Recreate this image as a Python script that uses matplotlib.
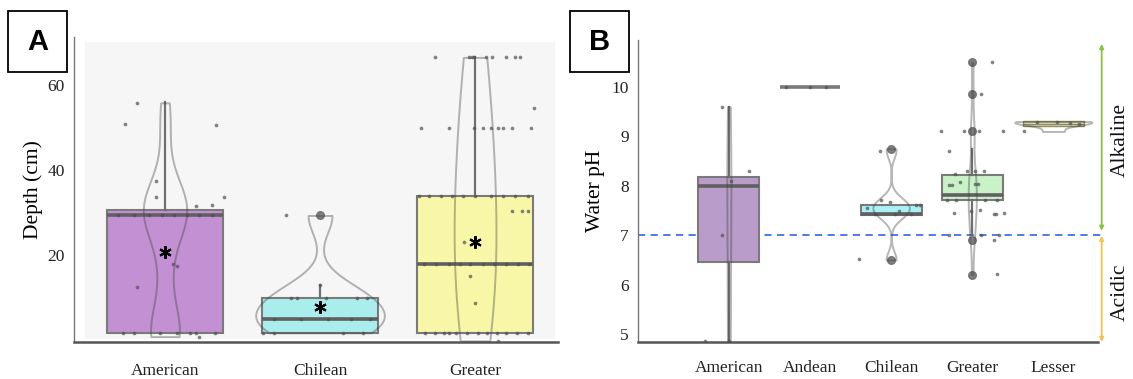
import numpy as np
import matplotlib
matplotlib.use("Agg")
import matplotlib.pyplot as plt
from matplotlib.patches import Rectangle
from matplotlib.transforms import blended_transform_factory

SERIF = ["Liberation Serif", "DejaVu Serif"]
SANS = ["Liberation Sans", "DejaVu Sans"]

# ---------------- Panel A : Depth (cm) ----------------
a_groups = ["American", "Chilean", "Greater"]
a_q1 = [1.7, 1.7, 1.7]
a_med = [29.4, 4.9, 17.8]
a_q3 = [30.6, 9.8, 33.9]
a_whislo = [1.7, 1.7, 1.7]
a_whishi = [56.0, 12.9, 66.5]
a_mean = [20.7, 7.8, 23.1]
a_fliers = [[], [29.3], []]
a_colors = ["#c490d4", "#aaeded", "#f8f7a8"]

a_american_vals = [55.8, 50.8, 50.6, 37.4, 33.6, 33.6, 31.6, 31.7, 18.0, 17.5, 12.5,
                   1.6, 1.6, 1.6, 1.6, 1.6, 1.6, 1.6, 0.8,
                   29.5, 29.5, 29.5, 29.5, 29.5, 29.5, 29.5, 29.5]
a_american_jit = [-0.18, -0.26, 0.33, -0.06, -0.06, 0.38, 0.2, 0.3, 0.05, 0.08, -0.18,
                  -0.27, -0.2, -0.03, 0.075, 0.16, 0.2, 0.32, 0.22,
                  -0.3, -0.2, -0.1, -0.02, 0.06, 0.14, 0.22, 0.3]
a_chilean_vals = [29.3, 12.9, 9.8, 9.8, 9.8, 9.8, 9.8, 4.9, 4.9, 4.9, 4.9, 4.9,
                  1.7, 1.7, 1.7, 1.7]
a_chilean_jit = [-0.22, 0.0, -0.19, -0.15, 0.04, 0.24, 0.3, -0.3, -0.12, 0.05, 0.2, 0.32,
                 -0.37, -0.3, 0.15, 0.28]
a_greater_vals = ([66.5] * 9 + [50.0] * 9 + [54.7] + [30.4] * 3 + [23.1, 15.1, 8.8]
                  + [34.0] * 10 + [17.8] * 10 + [1.7] * 12 + [-0.2])
a_greater_jit = ([-0.26, -0.04, -0.02, -0.01, 0.07, 0.11, 0.2, 0.26, 0.29]
                 + [-0.35, -0.17, -0.01, 0.05, 0.1, 0.15, 0.18, 0.24, 0.36]
                 + [0.38] + [0.24, 0.3, 0.34] + [-0.07, -0.03, 0.0]
                 + [-0.36, -0.3, -0.22, -0.15, -0.08, 0.0, 0.1, 0.18, 0.26, 0.34]
                 + [-0.33, -0.25, -0.17, -0.1, -0.03, 0.05, 0.12, 0.2, 0.28, 0.35]
                 + [-0.32, -0.26, -0.2, -0.17, -0.12, -0.05, 0.02, 0.08, 0.14, 0.2, 0.27, 0.34]
                 + [0.15])
a_vals = [a_american_vals, a_chilean_vals, a_greater_vals]
a_jits = [a_american_jit, a_chilean_jit, a_greater_jit]
a_violin_widths = [0.28, 0.83, 0.27]
a_violin_bw = [0.4, 0.5, 0.85]
a_yticks = [20, 40, 60]

# ---------------- Panel B : Water pH ----------------
b_groups = ["American", "Andean", "Chilean", "Greater", "Lesser"]
b_q1 = [6.46, 10.0, 7.41, 7.71, 9.2]
b_med = [8.0, 10.0, 7.43, 7.81, 9.26]
b_q3 = [8.17, 10.0, 7.61, 8.22, 9.32]
b_whislo = [4.86, 10.0, 7.41, 7.0, 9.2]
b_whishi = [9.6, 10.0, 7.61, 8.75, 9.32]
b_fliers = [[], [], [8.75, 6.5], [10.5, 9.85, 9.1, 6.9, 6.2], []]
b_colors = ["#b99cc9", "#d0d0d0", "#aaf0f5", "#c9f2c9", "#dcdab0"]

b_american_vals = [9.6, 8.3, 8.1, 7.0, 4.86, 4.86]
b_american_jit = [-0.08, 0.25, 0.03, -0.09, -0.3, 0.0]
b_andean_vals = [10.0, 10.0, 10.0]
b_andean_jit = [-0.3, 0.0, 0.2]
b_chilean_vals = [8.7, 6.51, 7.71, 7.68, 7.62, 7.62, 7.55, 7.5, 7.42, 7.42, 7.42]
b_chilean_jit = [-0.14, -0.4, -0.13, -0.01, 0.31, 0.36, -0.3, 0.1, -0.2, 0.05, 0.25]
b_greater_vals = [10.5, 9.85, 9.1, 9.1, 9.1, 9.1, 8.7, 8.3, 8.3, 8.3,
                  8.01, 8.01, 8.08, 8.03, 8.03, 8.24, 7.72, 7.72, 7.72, 7.72,
                  7.44, 7.51, 7.5, 7.42, 7.42, 7.44, 7.0, 7.0, 7.0, 6.9, 6.21]
b_greater_jit = [0.24, 0.11, -0.39, -0.1, 0.08, 0.38, -0.29, -0.06, 0.04, 0.14,
                 -0.29, -0.25, -0.15, 0.04, 0.07, -0.21, -0.31, -0.2, 0.16, 0.3,
                 -0.22, 0.1, -0.02, 0.27, 0.29, 0.39, -0.29, 0.11, 0.33, 0.27, 0.31]
b_lesser_vals = [9.1, 9.3, 9.3, 9.28, 9.25]
b_lesser_jit = [-0.36, -0.2, 0.05, 0.2, 0.32]
b_vals = [b_american_vals, b_andean_vals, b_chilean_vals, b_greater_vals, b_lesser_vals]
b_jits = [b_american_jit, b_andean_jit, b_chilean_jit, b_greater_jit, b_lesser_jit]
b_violin_widths = [0.05, 0.0, 0.45, 0.1, 0.95]
b_violin_bw = [None, None, 0.25, 0.3, None]
b_yticks = [5, 6, 7, 8, 9, 10]
b_neutral = 7.0

# ---------------- figure ----------------
fig = plt.figure(figsize=(11.33, 3.79), dpi=100)
W, H = 1133, 379
axA = fig.add_axes([74 / W, 37 / H, 484 / W, 305 / H])
axB = fig.add_axes([638 / W, 37 / H, 460 / W, 302 / H])

EDGE = "#7a7a7a"


def draw_boxes(ax, q1, med, q3, wlo, whi, fliers, means, colors, show_means):
    stats = []
    for i in range(len(q1)):
        d = dict(q1=q1[i], med=med[i], q3=q3[i], whislo=wlo[i], whishi=whi[i],
                 fliers=fliers[i])
        if means is not None:
            d["mean"] = means[i]
        stats.append(d)
    bp = ax.bxp(stats, positions=range(len(q1)), widths=0.75, patch_artist=True,
                showcaps=False, showmeans=show_means, manage_ticks=False,
                boxprops=dict(edgecolor=EDGE, linewidth=1.5),
                medianprops=dict(color="#606060", linewidth=2.6),
                whiskerprops=dict(color="#707070", linewidth=1.6),
                flierprops=dict(marker="o", markersize=5.5, markerfacecolor="#6a6a6a",
                                markeredgecolor="#6a6a6a", alpha=0.85),
                meanprops=dict(marker=(6, 2, 0), markersize=9, markeredgecolor="black",
                               markerfacecolor="black", markeredgewidth=1.5),
                zorder=2)
    for patch, c in zip(bp["boxes"], colors):
        patch.set_facecolor(c)
    for m in bp.get("means", []):
        m.set_zorder(6)
    return bp


def draw_violins(ax, vals, extra, widths, bws):
    for i, (v, w) in enumerate(zip(vals, widths)):
        data = list(v) + list(extra[i])
        if w <= 0 or np.std(data) == 0:
            continue
        vp = ax.violinplot([data], positions=[i], widths=w, showextrema=False,
                           bw_method=bws[i])
        for body in vp["bodies"]:
            body.set_alpha(None)
            body.set_facecolor((0, 0, 0, 0))
            body.set_edgecolor((0.25, 0.25, 0.25, 0.38))
            body.set_linewidth(1.4)
            body.set_zorder(3)


def draw_points(ax, vals, jits):
    for i, (v, j) in enumerate(zip(vals, jits)):
        ax.scatter(i + np.asarray(j), v, s=7, c="#505050", alpha=0.7,
                   linewidths=0, zorder=4)


# ---- Panel A ----
axA.add_patch(Rectangle((0.023, 0.01), 0.971, 0.975, transform=axA.transAxes,
                        facecolor="#f6f6f6", edgecolor="none", zorder=0))
draw_boxes(axA, a_q1, a_med, a_q3, a_whislo, a_whishi, a_fliers, a_mean, a_colors, True)
draw_violins(axA, a_vals, a_fliers, a_violin_widths, a_violin_bw)
draw_points(axA, a_vals, a_jits)
axA.set_xlim(-0.587, 2.535)
axA.set_ylim(-0.47, 71.3)
axA.set_yticks(a_yticks)
axA.set_xticks(range(len(a_groups)))
axA.set_xticklabels(a_groups)
axA.set_ylabel("Depth (cm)", fontsize=15.5, family=SERIF)
axA.yaxis.set_label_coords(-0.064, 0.5)

# ---- Panel B ----
bpB = draw_boxes(axB, b_q1, b_med, b_q3, b_whislo, b_whishi, b_fliers, None, b_colors, False)
bpB["boxes"][4].set_edgecolor("#8e8c62")
bpB["boxes"][4].set_linewidth(1.0)
bpB["medians"][4].set_color("#8e8c62")
bpB["medians"][4].set_linewidth(0.9)
bpB["medians"][1].set_color("#7a7a7a")
draw_violins(axB, b_vals, b_fliers, b_violin_widths, b_violin_bw)
draw_points(axB, b_vals, b_jits)
axB.set_xlim(-1.12, 4.55)
axB.set_ylim(4.84, 10.95)
axB.set_yticks(b_yticks)
axB.set_xticks(range(len(b_groups)))
axB.set_xticklabels(b_groups)
axB.set_ylabel("Water pH", fontsize=15.5, family=SERIF)
axB.yaxis.set_label_coords(-0.072, 0.5)
axB.axhline(b_neutral, xmin=0, xmax=1.008, color="#3f73e0", linestyle=(0, (4, 3)),
            linewidth=1.3, clip_on=False, zorder=1)

trB = blended_transform_factory(axB.transAxes, axB.transData)
axB.annotate("", xy=(1.008, 10.87), xytext=(1.008, 7.09), xycoords=trB, textcoords=trB,
             arrowprops=dict(arrowstyle="<|-|>", color="#86c440", lw=1.3,
                             mutation_scale=6, shrinkA=0, shrinkB=0), annotation_clip=False)
axB.annotate("", xy=(1.008, 6.99), xytext=(1.008, 4.84), xycoords=trB, textcoords=trB,
             arrowprops=dict(arrowstyle="<|-|>", color="#f6c44a", lw=1.3,
                             mutation_scale=6, shrinkA=0, shrinkB=0), annotation_clip=False)
axB.text(1.048, 8.93, "Alkaline", transform=trB, rotation=90, ha="center", va="center",
         fontsize=15.5, family=SERIF, color="#111111")
axB.text(1.048, 5.85, "Acidic", transform=trB, rotation=90, ha="center", va="center",
         fontsize=15.5, family=SERIF, color="#111111")

for ax, xpad in ((axA, 15), (axB, 13)):
    for s in ("top", "right"):
        ax.spines[s].set_visible(False)
    ax.spines["left"].set_color("#777777")
    ax.spines["left"].set_linewidth(1.0)
    ax.spines["bottom"].set_color("#555555")
    ax.spines["bottom"].set_linewidth(1.8)
    ax.tick_params(axis="both", length=0, labelsize=12.5, colors="#222222")
    ax.tick_params(axis="y", pad=6.5)
    ax.tick_params(axis="x", pad=xpad)
    for lab in ax.get_xticklabels() + ax.get_yticklabels():
        lab.set_family(SERIF)
    ax.set_facecolor("white")

# panel letters
for x0, letter in ((8, "A"), (570, "B")):
    fig.patches.append(Rectangle((x0 / W, (H - 72) / H), 59 / W, 61 / H,
                                 transform=fig.transFigure, facecolor="white",
                                 edgecolor="black", linewidth=1.3, zorder=5))
    fig.text((x0 + 29.5) / W, (H - 41.5) / H, letter, ha="center", va="center",
             fontsize=21, fontweight="bold", family=SANS, zorder=6)

fig.savefig("out.png", dpi=100)
